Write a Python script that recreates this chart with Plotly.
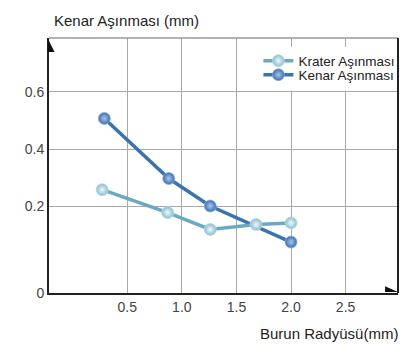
import plotly.graph_objects as go

# Data
krater_x = [0.27, 0.87, 1.26, 1.68, 2.0]
krater_y = [0.258, 0.178, 0.119, 0.136, 0.142]
kenar_x = [0.29, 0.88, 1.26, 2.0]
kenar_y = [0.507, 0.297, 0.201, 0.075]

x_ticks = [0.5, 1.0, 1.5, 2.0, 2.5]
x_tick_text = ["0.5", "1.0", "1.5", "2.0", "2.5"]
y_tick_text = ["0", "0.2", "0.4", "0.6"]

Y_MIN, Y_MAX = -0.103, 0.788
X_MIN, X_MAX = -0.217, 2.98
y_tick_vals = [Y_MIN, 0.2, 0.4, 0.6]

FONT = "Liberation Sans, Arial, sans-serif"

fig = go.Figure()
fig.add_trace(go.Scatter(
    x=kenar_x, y=kenar_y, name="Kenar Aşınması", mode="lines+markers",
    legend="legend2",
    line=dict(color="#3a73b0", width=3.5),
    marker=dict(size=12, color="#3a6fae",
                gradient=dict(type="radial", color="#a9c6e6"),
                line=dict(color="#8fb0d6", width=0.8)),
))
fig.add_trace(go.Scatter(
    x=krater_x, y=krater_y, name="Krater Aşınması", mode="lines+markers",
    legend="legend",
    line=dict(color="#6aa9c2", width=3.5),
    marker=dict(size=12, color="#86bccf",
                gradient=dict(type="radial", color="#f2f9fb"),
                line=dict(color="#b8dbe6", width=0.8)),
))

leg_common = dict(xanchor="left", yanchor="middle", bgcolor="rgba(0,0,0,0)",
                  font=dict(size=13.5, color="#222222"), itemwidth=30,
                  borderwidth=0)

fig.update_layout(
    width=417, height=345,
    margin=dict(l=49, r=19, t=38, b=52),
    paper_bgcolor="white", plot_bgcolor="white",
    font=dict(family=FONT, color="#333333"),
    showlegend=True,
    legend=dict(x=0.60, y=0.91, **leg_common),
    legend2=dict(x=0.60, y=0.855, **leg_common),
    xaxis=dict(range=[X_MIN, X_MAX], tickvals=x_ticks, ticktext=x_tick_text,
               showgrid=True, gridcolor="#a8a8a8", gridwidth=1,
               zeroline=False, showline=True, linecolor="#222222", linewidth=2,
               tickfont=dict(size=14, color="#444444"), ticks=""),
    yaxis=dict(range=[Y_MIN, Y_MAX], tickvals=y_tick_vals, ticktext=y_tick_text,
               showgrid=True, gridcolor="#a8a8a8", gridwidth=1,
               zeroline=False, showline=True, linecolor="#222222", linewidth=2,
               tickfont=dict(size=14, color="#444444"), ticks=""),
    shapes=[
        # white backdrop behind the legend
        dict(type="rect", xref="paper", yref="paper", x0=0.61, x1=0.997,
             y0=0.794, y1=0.965, fillcolor="white", line=dict(width=0),
             layer="above"),
        dict(type="line", xref="paper", yref="paper", x0=0, x1=1, y0=1, y1=1,
             line=dict(color="#999999", width=1.5)),
        dict(type="line", xref="paper", yref="paper", x0=1, x1=1, y0=0, y1=1,
             line=dict(color="#222222", width=2)),
        dict(type="path", xref="paper", yref="paper",
             path="M -0.004 1 L -0.004 0.945 L 0.016 0.945 Z",
             fillcolor="#111111", line=dict(width=0)),
        dict(type="path", xref="paper", yref="paper",
             path="M 0.963 0.004 L 0.963 0.026 L 1.0 0.004 Z",
             fillcolor="#111111", line=dict(width=0)),
    ],
    annotations=[
        dict(text="Kenar Aşınması (mm)", xref="paper", yref="paper",
             x=0.008, y=1.07, xanchor="left", yanchor="middle", showarrow=False,
             font=dict(size=15, color="#222222")),
        dict(text="Burun Radyüsü(mm)", xref="paper", yref="paper",
             x=1.006, y=-0.157, xanchor="right", yanchor="middle", showarrow=False,
             font=dict(size=15, color="#222222")),
    ],
)

fig.write_html("out.html", config={"displayModeBar": False},
               post_script="document.body.style.margin='0';")
